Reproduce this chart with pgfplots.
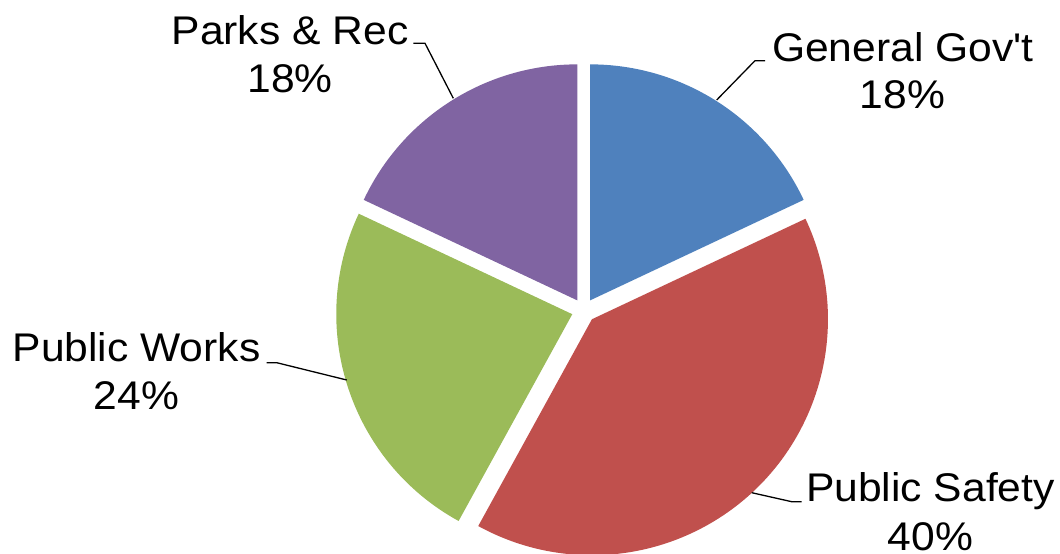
\documentclass[border=0pt]{standalone}
\usepackage{pgfplots}
\pgfplotsset{compat=1.18}
\usepackage{pgfplotstable}
\usepackage{fontspec}
\setmainfont{Liberation Sans}[FakeStretch=1.065]
\definecolor{pieblue}{HTML}{4F81BD}
\definecolor{piered}{HTML}{C0504D}
\definecolor{piegreen}{HTML}{9BBB59}
\definecolor{piepurple}{HTML}{8064A2}
% share of each department (percent)
\pgfplotstableread{
label value
General 18
Safety 40
Works 24
Parks 18
}\piedata
\newcommand{\slice}[3]{% start angle, percent, colour
 \pgfmathsetmacro\aend{#1-3.6*#2}%
 \pgfmathsetmacro\amid{(#1+\aend)/2}%
 \pgfmathsetmacro\px{583.7+12*cos(\amid)}%
 \pgfmathsetmacro\py{243.5+12*sin(\amid)}%
 \edef\temp{\noexpand\fill[#3] (axis cs:\px,\py) -- ++(#1:236bp) arc[start angle=#1, end angle=\aend, radius=236bp] -- cycle;}%
 \temp}
\begin{document}
\begin{tikzpicture}
\begin{axis}[width=1060bp, height=554bp, scale only axis,
  xmin=0, xmax=1060, ymin=0, ymax=554, hide axis, clip=false]
\pgfplotstablegetelem{0}{value}\of\piedata \let\vA\pgfplotsretval
\pgfplotstablegetelem{1}{value}\of\piedata \let\vB\pgfplotsretval
\pgfplotstablegetelem{2}{value}\of\piedata \let\vC\pgfplotsretval
\pgfplotstablegetelem{3}{value}\of\piedata \let\vD\pgfplotsretval
\pgfmathsetmacro\sA{90}
\slice{\sA}{\vA}{pieblue}
\pgfmathsetmacro\sB{\sA-3.6*\vA}
\slice{\sB}{\vB}{piered}
\pgfmathsetmacro\sC{\sB-3.6*\vB}
\slice{\sC}{\vC}{piegreen}
\pgfmathsetmacro\sD{\sC-3.6*\vC}
\slice{\sD}{\vD}{piepurple}
% leader lines
\draw[black, line width=1.3bp] (axis cs:765,493.3) -- (axis cs:755,493.3) -- (axis cs:716.7,454);
\draw[black, line width=1.3bp] (axis cs:413.3,510.7) -- (axis cs:425,510.7) -- (axis cs:453.3,455.7);
\draw[black, line width=1.3bp] (axis cs:266.7,191.3) -- (axis cs:276.7,191.3) -- (axis cs:346.7,174);
\draw[black, line width=1.3bp] (axis cs:801.7,52.3) -- (axis cs:791.7,52.3) -- (axis cs:751.7,61.3);
% labels
\tikzset{lab/.style={anchor=base, inner sep=0pt, font=\fontsize{40bp}{48bp}\selectfont}}
\node[lab] at (axis cs:902.5,492.3) {General Gov\textquotesingle t};
\node[lab] at (axis cs:902.5,445) {18\%};
\node[lab] at (axis cs:290,509) {Parks \& Rec};
\node[lab] at (axis cs:290,461.3) {18\%};
\node[lab] at (axis cs:136.5,192.3) {Public Works};
\node[lab] at (axis cs:136.5,144) {24\%};
\node[lab] at (axis cs:930.5,52.3) {Public Safety};
\node[lab] at (axis cs:930.5,4) {40\%};
\end{axis}
\pgfresetboundingbox
\useasboundingbox (0,0) rectangle (1060bp,554bp);
\end{tikzpicture}
\end{document}
